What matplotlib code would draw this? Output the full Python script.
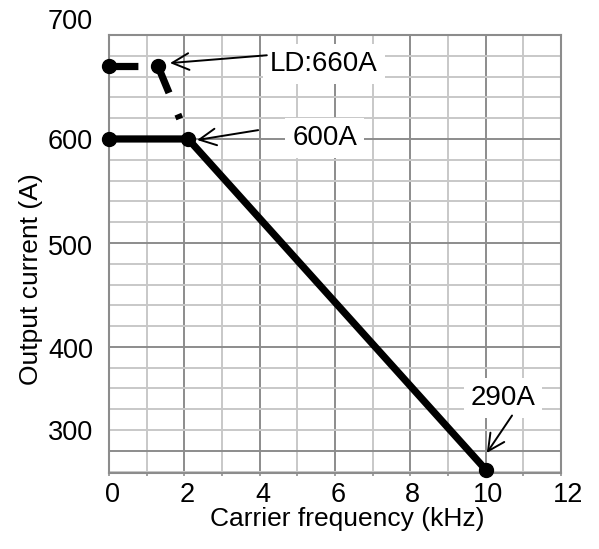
import matplotlib.pyplot as plt
import matplotlib.transforms as mtransforms

# output current vs carrier frequency (kHz, A)
freq = [0, 2.1, 10]
current = [600, 600, 282]
# LD rating, dashed part of the curve
ld_freq = [0, 1.3, 2.1]
ld_current = [670, 670, 600]

x_ticks = [0, 2, 4, 6, 8, 10, 12]
x_minor = [1, 3, 5, 7, 9, 11]
y_ticks = [300, 400, 500, 600, 700]
y_minor = [280, 320, 340, 360, 380, 420, 440, 460, 480,
           520, 540, 560, 580, 620, 640, 660, 680]

note_text = ['LD:660A', '600A', '290A']

plt.rcParams['font.family'] = ['Liberation Sans', 'DejaVu Sans']

fig = plt.figure(figsize=(5.99, 5.49), dpi=100)
ax = fig.add_axes([109 / 599, 1 - 472.7 / 549, 452 / 599, 437.7 / 549])

ax.set_xlim(0, 12)
ax.set_ylim(279, 700)
ax.set_xticks(x_ticks)
ax.set_xticks(x_minor, minor=True)
ax.set_yticks(y_ticks)
ax.set_yticks(y_minor, minor=True)

ax.grid(which='major', color='#8c8c8c', lw=1.4)
ax.grid(which='minor', color='#c8c8c8', lw=1.4)
ax.set_axisbelow(True)
for s in ax.spines.values():
    s.set_color('#8c8c8c')
    s.set_linewidth(1.5)

ax.tick_params(axis='x', which='both', length=2, width=1.4, color='#a0a0a0',
               pad=4.5, labelsize=19.5)
ax.tick_params(axis='y', which='both', length=0, pad=11.5, labelsize=19.5)

# nudge tick labels the way the original sits them
for lab, dx in zip(ax.get_xticklabels(), [3, 3, 3, 3, 2, 2, 7]):
    lab.set_transform(lab.get_transform() +
                      mtransforms.ScaledTranslation(dx / 100, 0, fig.dpi_scale_trans))
for lab, dy in zip(ax.get_yticklabels(), [21, -1, -2, 0, 16]):
    lab.set_transform(lab.get_transform() +
                      mtransforms.ScaledTranslation(0, dy / 100, fig.dpi_scale_trans))

# LD curve, each segment restarts the dash pattern
for i in range(len(ld_freq) - 1):
    ax.plot(ld_freq[i:i + 2], ld_current[i:i + 2], color='black', lw=5.2,
            linestyle=(0, (4.0, 3.2, 0.7, 3.2)), dash_capstyle='butt',
            zorder=3, clip_on=False)
ax.plot(ld_freq[:2], ld_current[:2], 'o', color='black', ms=10,
        zorder=4, clip_on=False)

ax.plot(freq, current, color='black', lw=5.2, marker='o', ms=10,
        solid_joinstyle='round', zorder=4, clip_on=False)

box = dict(boxstyle='square,pad=0.25', fc='white', ec='none')
arrow = dict(arrowstyle='->,head_length=0.6,head_width=0.3', lw=1.4,
             color='black', shrinkA=0, shrinkB=0, mutation_scale=20)

ax.text(5.71, 672, note_text[0], fontsize=20, ha='center', va='center',
        bbox=box, zorder=5)
ax.annotate('', xy=(1.62, 673), xytext=(4.19, 680.5), arrowprops=arrow, zorder=6)

ax.text(5.73, 601, note_text[1], fontsize=20, ha='center', va='center',
        bbox=box, zorder=5)
ax.annotate('', xy=(2.34, 599), xytext=(3.96, 608.5), arrowprops=arrow, zorder=6)

ax.text(10.46, 351, note_text[2], fontsize=20, ha='center', va='center',
        bbox=box, zorder=5)
ax.annotate('', xy=(10.03, 298), xytext=(10.7, 334), arrowprops=arrow, zorder=6)

ax.set_xlabel('Carrier frequency (kHz)', fontsize=19)
ax.set_ylabel('Output current (A)', fontsize=19)
ax.xaxis.set_label_coords(0.528, -0.078)
ax.yaxis.set_label_coords(-0.146, 0.4425)

fig.savefig('out.png', dpi=100)
